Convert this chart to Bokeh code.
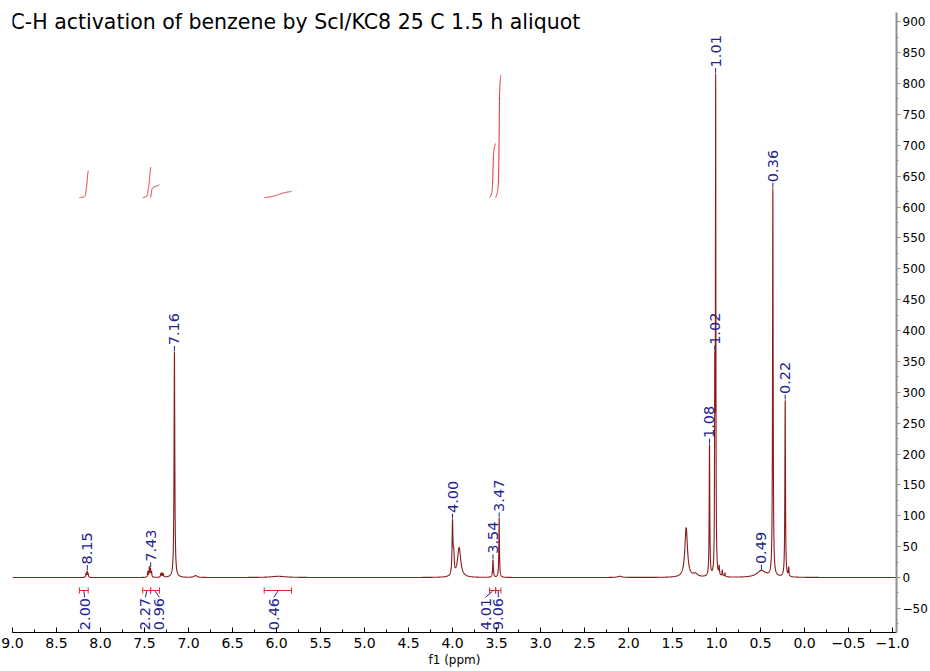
import numpy as np
from bokeh.plotting import figure
from bokeh.models import Range1d, SingleIntervalTicker, CustomJSTickFormatter, Label
from bokeh.core.properties import value
from bokeh.embed import file_html
from bokeh.resources import INLINE

# ---------------- data ----------------
title_text = "C-H activation of benzene by ScI/KC8 25 C 1.5 h aliquot"

# resonances: position (ppm), height (a.u.), half width (ppm)
peak_ppm = [8.165, 8.152, 8.140, 7.462, 7.445, 7.432, 7.420, 7.315, 7.300, 7.285,
            7.160, 6.920, 5.980, 4.000, 3.986, 3.925, 3.540, 3.470, 2.100, 1.345,
            1.240, 1.080, 1.020, 1.010, 0.970, 0.935, 0.905, 0.490, 0.360, 0.220, 0.180]
peak_height = [6, 10, 6, 9, 16, 13, 8, 6, 7, 5,
               366, 3, 2, 86, 30, 48, 28, 96, 2, 80,
               5, 213, 300, 790, 14, 10, 6, 11, 628, 286, 14]
peak_hwhm = [0.004, 0.004, 0.004, 0.004, 0.004, 0.004, 0.004, 0.004, 0.004, 0.004,
             0.005, 0.02, 0.10, 0.006, 0.006, 0.022, 0.005, 0.004, 0.03, 0.018,
             0.03, 0.004, 0.003, 0.003, 0.004, 0.004, 0.004, 0.06, 0.004, 0.004, 0.004]

# peak picking labels
label_ppm = [8.15, 7.43, 7.16, 4.00, 3.54, 3.47, 1.08, 1.02, 1.01, 0.49, 0.36, 0.22]

# integrals
int_from = [8.24, 7.52, 7.43, 6.14, 3.58, 3.51]
int_to = [8.14, 7.43, 7.33, 5.83, 3.51, 3.45]
int_value = [2.00, 2.27, 0.96, 0.46, 4.01, 9.06]
# label placement (layout) of integral values
int_label_x = [8.18, 7.49, 7.33, 6.03, 3.625, 3.48]

# ---------------- styles ----------------
SPEC = "#8b1a1a"
NAVY = "#23238f"
RED = "#e3262b"
FONT = "DejaVu Sans"

grid = np.arange(-1.045, 9.0005, 0.0005)
spec = np.zeros_like(grid)
for c, h, w in zip(peak_ppm, peak_height, peak_hwhm):
    spec += h / (1.0 + ((grid - c) / w) ** 2)

p = figure(width=930, height=671, x_range=Range1d(9.0, -1.045), y_range=Range1d(-89, 915),
           y_axis_location="right", output_backend="svg", toolbar_location=None,
           min_border_left=12, min_border_right=34, min_border_top=12, min_border_bottom=39)
p.outline_line_color = None
p.grid.visible = False

# x axis
xa = p.xaxis[0]
xa.ticker = SingleIntervalTicker(interval=0.5, num_minor_ticks=2)
xa.formatter = CustomJSTickFormatter(code="return (tick < -1e-9 ? '\\u2212' : '') + Math.abs(tick).toFixed(1);")
xa.major_tick_in = 5
xa.major_tick_out = 0
xa.minor_tick_in = 3
xa.minor_tick_out = 0
xa.axis_line_color = "#000000"
xa.major_tick_line_color = "#000000"
xa.minor_tick_line_color = "#000000"
xa.major_label_text_font = FONT
xa.major_label_text_font_size = "14px"
xa.major_label_text_color = "#000000"
xa.major_label_standoff = 5
xa.axis_label = "f1 (ppm)"
xa.axis_label_text_font = FONT
xa.axis_label_text_font_size = "12px"
xa.axis_label_text_font_style = "normal"
xa.axis_label_text_color = "#000000"
xa.axis_label_standoff = 2

# y axis
ya = p.yaxis[0]
ya.ticker = SingleIntervalTicker(interval=50, num_minor_ticks=2)
ya.formatter = CustomJSTickFormatter(code="return (tick < 0 ? '\\u2212' : '') + Math.abs(tick).toFixed(0);")
ya.major_tick_in = 0
ya.major_tick_out = 4
ya.minor_tick_in = 0
ya.minor_tick_out = 2
ya.axis_line_color = "#8f8f8f"
ya.axis_line_width = 2
ya.major_tick_line_color = "#8f8f8f"
ya.minor_tick_line_color = "#8f8f8f"
ya.major_label_text_font = FONT
ya.major_label_text_font_size = "12px"
ya.major_label_text_color = "#000000"
ya.major_label_standoff = 2

# spectrum
p.line(grid, spec, line_color=SPEC, line_width=1.1)

# integral curves (cumulative area of the spectrum within each range)
base_int = 615.0
per_unit = 21.9
xs, ys = [], []
for a, b, v in zip(int_from, int_to, int_value):
    m = (grid <= a) & (grid >= b)
    gx = grid[m][::-1]
    gy = spec[m][::-1]
    cum = np.cumsum(gy)
    cum = cum / cum[-1]
    xs.append(list(gx))
    ys.append(list(base_int + v * per_unit * cum))
p.multi_line(xs, ys, line_color=RED, line_width=1)

# peak labels
lab_y = []
for lp in label_ppm:
    m = np.abs(grid - lp) <= 0.003
    lab_y.append(float(spec[m].max()))
lab_y = np.array(lab_y)
p.segment(x0=label_ppm, y0=lab_y + 1, x1=label_ppm, y1=lab_y + 9, line_color=NAVY, line_width=1)
p.text(x=label_ppm, y=list(lab_y + 10), text=["%.2f" % v for v in label_ppm], angle=np.pi / 2,
       text_align="left", text_baseline="middle", text_font=value(FONT),
       text_font_size="14.5px", text_color=NAVY)

# integral bars below the baseline
bar_y = -21
centers = [(a + b) / 2 for a, b in zip(int_from, int_to)]
p.segment(x0=int_from, y0=[bar_y] * 6, x1=int_to, y1=[bar_y] * 6, line_color=RED, line_width=1)
p.segment(x0=int_from, y0=[bar_y - 5] * 6, x1=int_from, y1=[bar_y + 5] * 6, line_color=RED, line_width=1)
p.segment(x0=int_to, y0=[bar_y - 5] * 6, x1=int_to, y1=[bar_y + 5] * 6, line_color=RED, line_width=1)
p.segment(x0=centers, y0=[bar_y - 1] * 6, x1=int_label_x, y1=[bar_y - 11] * 6, line_color=NAVY, line_width=1)
p.text(x=int_label_x, y=[bar_y - 12] * 6, text=["%.2f" % v for v in int_value], angle=np.pi / 2,
       text_align="right", text_baseline="middle", text_font=value(FONT),
       text_font_size="14.5px", text_color=NAVY)

# title
p.add_layout(Label(x=9.0, y=899, x_offset=-2, text=title_text, text_font=FONT,
                   text_font_size="20.5px", text_baseline="middle", text_align="left",
                   text_color="#000000"))

open("out.html", "w").write(file_html(p, INLINE))
